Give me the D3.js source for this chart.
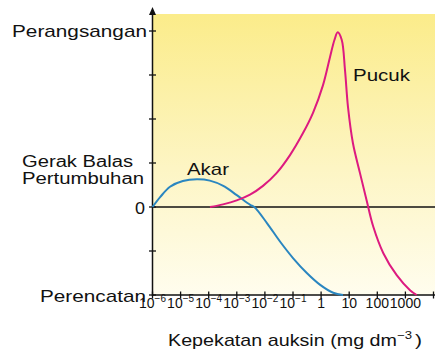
<!DOCTYPE html>
<meta charset="utf-8">
<script src="https://d3js.org/d3.v7.min.js"></script>
<style>
    body { margin: 0; background: #fff; }
    text { font-family: "Liberation Sans", Arial, sans-serif; fill: #111; }
</style>
<body>
<div id="chart"></div>
<script>
    // auxin concentration (mg dm-3) vs growth response
    var akarConc = [1e-6, 1.9e-6, 4.2e-6, 1.2e-5, 3.8e-5, 1.1e-4, 3.3e-4, 1e-3, 3e-3, 4.2e-3,
                    1.2e-2, 3.5e-2, 0.1, 0.31, 0.93, 2.7, 6.0];
    var akarResp = [0, 0.23, 0.46, 0.59, 0.63, 0.60, 0.48, 0.27, 0.05, 0,
                    -0.37, -0.79, -1.16, -1.5, -1.77, -1.95, -2.0];

    var pucukConc = [1.11e-4, 3.23e-4, 9.9e-4, 2.95e-3, 8.55e-3, 0.0259, 0.0782, 0.227, 0.515,
                     1.17, 2.08, 3.0, 3.9, 5.41, 7.09, 9.07, 13.6, 24.2, 42.0, 72.1, 164, 490, 1459, 2523];
    var pucukResp = [0, 0.06, 0.15, 0.28, 0.48, 0.77, 1.18, 1.68, 2.14,
                     2.77, 3.41, 3.80, 3.97, 3.80, 3.11, 2.27, 1.45, 0.77, 0.14, -0.45, -1.05, -1.55, -1.89, -2.0];

    var xTicks = [1e-6, 1e-5, 1e-4, 1e-3, 1e-2, 1e-1, 1, 10, 100, 1000, 10000];
    var xTickLabels = ["10^−6", "10^−5", "10^−4", "10^−3", "10^−2", "10^−1", "1", "10", "100", "1000", ""];
    var yTicks = [-2, -1, 0, 1, 2, 3, 4];

    const width = 437, height = 350;

    var svg = d3.select("#chart").append("svg")
        .attr("width", width)
        .attr("height", height);

    var x = d3.scaleLog().domain([1e-6, 1e4]).range([152.5, 433.5]);
    var y = d3.scaleLinear().domain([-2, 4]).range([295, 31]);

    // background gradient
    var grad = svg.append("defs").append("linearGradient")
        .attr("id", "bg").attr("x1", 0).attr("y1", 0).attr("x2", 0).attr("y2", 1);
    grad.append("stop").attr("offset", "0%").attr("stop-color", "#fbec8a");
    grad.append("stop").attr("offset", "55%").attr("stop-color", "#fdf5c4");
    grad.append("stop").attr("offset", "100%").attr("stop-color", "#fffdee");

    svg.append("rect")
        .attr("x", x(1e-6)).attr("y", 14)
        .attr("width", 435 - x(1e-6)).attr("height", y(-2) - 14)
        .attr("fill", "url(#bg)");

    // zero line
    svg.append("line")
        .attr("x1", x(1e-6)).attr("x2", 435)
        .attr("y1", y(0)).attr("y2", y(0))
        .attr("stroke", "#111").attr("stroke-width", 1.5);

    // x axis
    svg.append("line")
        .attr("x1", x(1e-6)).attr("x2", 435)
        .attr("y1", y(-2)).attr("y2", y(-2))
        .attr("stroke", "#111").attr("stroke-width", 1.5);
    svg.selectAll(".xtick").data(xTicks).enter().append("line")
        .attr("x1", d => x(d)).attr("x2", d => x(d))
        .attr("y1", y(-2) - 3.5).attr("y2", y(-2) + 3.5)
        .attr("stroke", "#111").attr("stroke-width", 1.3);

    var lbl = svg.selectAll(".xlbl").data(xTickLabels).enter().append("text")
        .attr("x", (d, i) => x(xTicks[i]))
        .attr("y", 308)
        .attr("text-anchor", "middle")
        .style("font-size", "14px");
    lbl.each(function (d) {
        var parts = d.split("^");
        var t = d3.select(this);
        t.append("tspan").text(parts[0]);
        if (parts[1]) {
            t.append("tspan").attr("dy", -6).style("font-size", "10px").text(parts[1]);
        }
    });

    // y axis with arrow
    svg.append("line")
        .attr("x1", x(1e-6)).attr("x2", x(1e-6))
        .attr("y1", y(-2) + 1).attr("y2", 12)
        .attr("stroke", "#111").attr("stroke-width", 1.5);
    svg.append("path")
        .attr("d", d3.line()([[x(1e-6) - 3.5, 15], [x(1e-6), 7], [x(1e-6) + 3.5, 15]]) + "Z")
        .attr("fill", "#111");
    svg.selectAll(".ytick").data(yTicks).enter().append("line")
        .attr("x1", x(1e-6) - 3.5).attr("x2", x(1e-6) + 3.5)
        .attr("y1", d => y(d)).attr("y2", d => y(d))
        .attr("stroke", "#111").attr("stroke-width", 1.3);

    function label(txt, px, py, len, anchor, size) {
        return svg.append("text")
            .attr("x", px).attr("y", py)
            .attr("text-anchor", anchor || "start")
            .attr("textLength", len)
            .attr("lengthAdjust", "spacingAndGlyphs")
            .style("font-size", (size || 17) + "px")
            .text(txt);
    }

    label("Perangsangan", 147, y(4) + 6.3, 135, "end");
    label("Gerak Balas", 22, y(1) + 4, 111, "start", 16);
    label("Pertumbuhan", 22, y(1) + 21, 122, "start", 16);
    label("0", 145, y(0) + 7, 10, "end");
    label("Perencatan", 146, y(-2) + 7, 106, "end");
    label("Akar", 187, 175, 42);
    label("Pucuk", 353, 81, 57);
    label("Kepekatan auksin (mg dm", 168, 346, 229);
    svg.append("text")
        .attr("x", 397).attr("y", 339)
        .attr("textLength", 15).attr("lengthAdjust", "spacingAndGlyphs")
        .style("font-size", "11px").text("−3");
    label(")", 415, 346, 7);

    // curves
    var line = d3.line()
        .x(d => x(d[0]))
        .y(d => y(d[1]))
        .curve(d3.curveCatmullRom.alpha(0.5));

    svg.append("path")
        .datum(d3.zip(akarConc, akarResp))
        .attr("d", line)
        .attr("fill", "none")
        .attr("stroke", "#2a86c0")
        .attr("stroke-width", 2);

    svg.append("path")
        .datum(d3.zip(pucukConc, pucukResp))
        .attr("d", line)
        .attr("fill", "none")
        .attr("stroke", "#dd1a80")
        .attr("stroke-width", 2);
</script>
</body>
